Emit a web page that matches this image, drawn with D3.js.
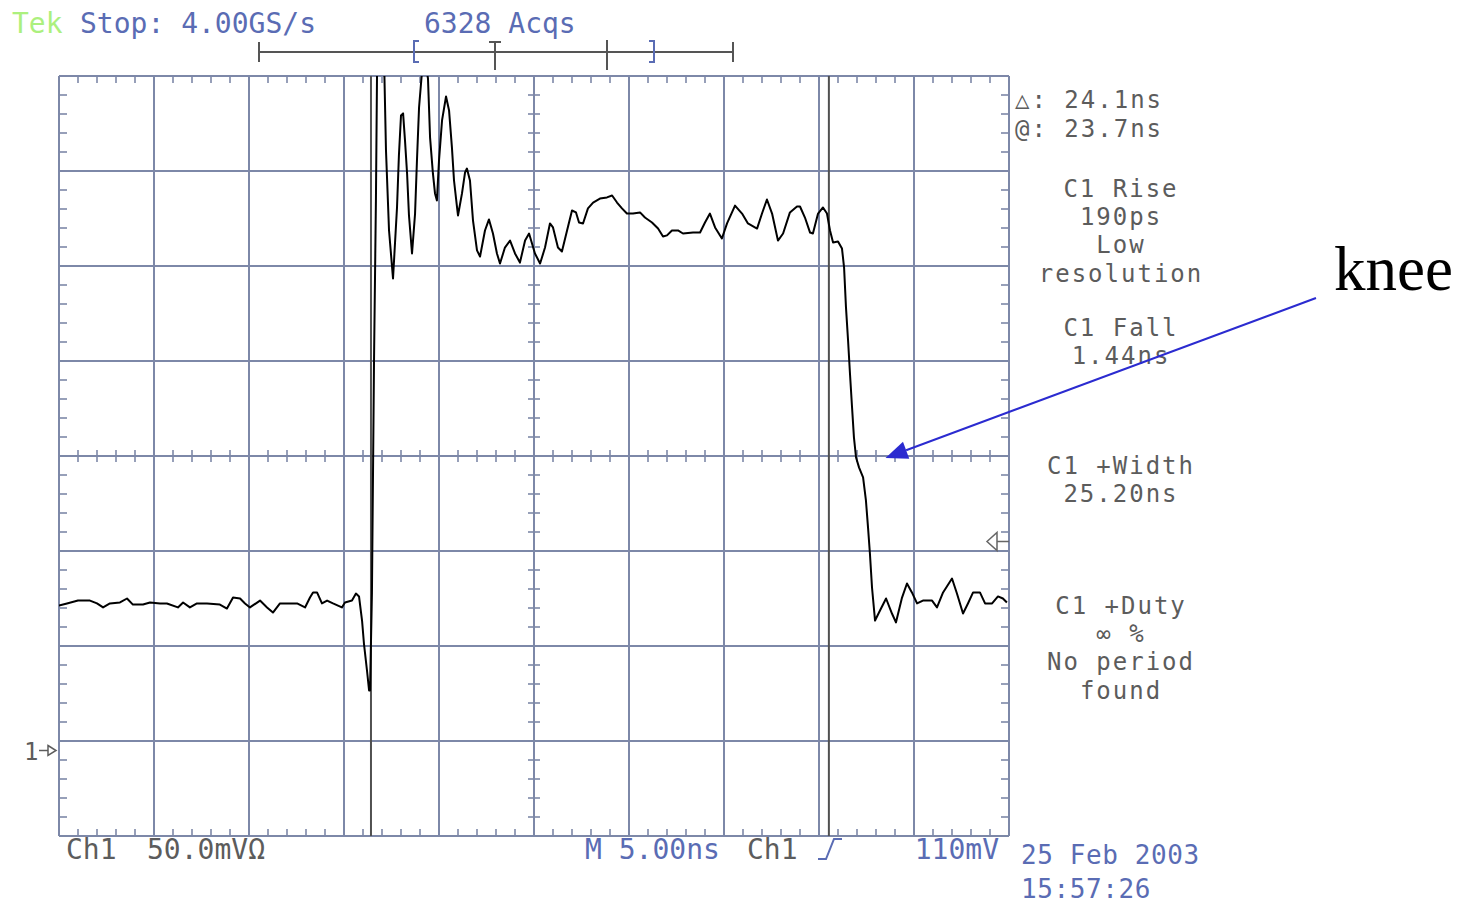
<!DOCTYPE html>
<html>
<head>
<meta charset="utf-8">
<script src="https://cdn.jsdelivr.net/npm/d3@7"></script>
<style>
  html, body { margin: 0; padding: 0; background: #fff; }
  svg { display: block; }
  .scope { font-family: "DejaVu Sans Mono", "Liberation Mono", monospace; font-size: 28px; }
  .readout { font-size: 24px; letter-spacing: 2px; }
</style>
</head>
<body>
<div id="chart"></div>
<script>
// Ch1 trace: time from left edge of screen (ns) and level above ground (mV)
const timeNs = [
  0.00, 0.42, 1.00, 1.63, 2.00, 2.32, 2.68, 3.21, 3.58, 3.89,
  4.42, 4.79, 5.32, 5.68, 6.26, 6.53, 6.89, 7.26, 7.79, 8.47,
  8.84, 9.16, 9.53, 9.79, 10.05, 10.58, 10.95, 11.26, 11.63, 12.16,
  12.53, 12.95, 13.21, 13.37, 13.58, 13.84, 14.11, 14.42, 14.89, 15.05,
  15.42, 15.63, 15.79, 15.95, 16.05, 16.21, 16.32, 16.37, 16.47, 16.58,
  16.68, 16.74, 16.89, 17.11, 17.21, 17.37, 17.58, 17.79, 17.89, 18.00,
  18.11, 18.21, 18.32, 18.42, 18.58, 18.74, 18.84, 18.95, 19.11, 19.26,
  19.42, 19.53, 19.68, 19.79, 19.89, 20.00, 20.16, 20.37, 20.53, 20.68,
  20.79, 20.95, 21.00, 21.21, 21.37, 21.47, 21.63, 21.79, 22.00, 22.16,
  22.42, 22.63, 22.84, 23.05, 23.21, 23.47, 23.74, 24.00, 24.26, 24.53,
  24.74, 25.05, 25.32, 25.58, 25.84, 26.00, 26.26, 26.47, 26.74, 27.00,
  27.21, 27.37, 27.58, 27.84, 28.11, 28.47, 28.84, 29.11, 29.37, 29.63,
  29.89, 30.21, 30.58, 30.84, 31.21, 31.53, 31.79, 32.00, 32.26, 32.58,
  32.84, 33.37, 33.74, 34.00, 34.26, 34.53, 34.89, 35.16, 35.58, 35.95,
  36.26, 36.74, 37.00, 37.26, 37.53, 37.84, 38.11, 38.47, 38.84, 39.00,
  39.26, 39.53, 39.68, 39.95, 40.21, 40.42, 40.58, 40.74, 41.00, 41.21,
  41.32, 41.42, 41.53, 41.63, 41.74, 41.84, 41.95, 42.11, 42.32, 42.47,
  42.58, 42.68, 42.79, 42.95, 43.21, 43.53, 43.84, 44.05, 44.37, 44.63,
  44.89, 45.16, 45.47, 45.95, 46.21, 46.53, 47.00, 47.26, 47.58, 47.84,
  48.11, 48.47, 48.74, 49.11, 49.42, 49.68, 49.89
];
const voltMv = [
  76.3, 77.4, 78.9, 78.9, 77.4, 75.3, 77.4, 77.9, 80.0, 76.8,
  76.8, 77.9, 77.4, 77.4, 75.3, 77.9, 75.3, 77.4, 77.4, 76.8,
  74.7, 80.5, 80.0, 77.4, 75.3, 78.9, 75.3, 72.6, 77.4, 77.4,
  77.4, 75.3, 80.5, 83.2, 83.2, 77.4, 78.9, 77.4, 75.3, 77.9,
  78.9, 82.6, 81.1, 68.4, 56.3, 42.1, 31.6, 31.6, 82.6, 205.3,
  289.5, 357.9, 373.7, 363.2, 315.8, 273.7, 248.4, 285.8, 313.2, 334.2,
  335.3, 321.1, 303.7, 281.6, 261.6, 282.6, 310.5, 338.4, 357.9, 363.2,
  353.7, 322.6, 303.7, 293.2, 289.5, 310.5, 331.6, 344.2, 336.8, 317.4,
  300.0, 285.8, 281.6, 293.2, 304.2, 306.3, 300.0, 278.9, 263.2, 260.0,
  273.7, 279.5, 272.1, 261.6, 256.3, 264.7, 268.4, 261.6, 256.8, 268.4,
  272.1, 261.6, 256.3, 264.7, 277.4, 275.3, 264.7, 262.6, 273.7, 284.2,
  283.2, 277.9, 277.4, 285.3, 288.4, 290.5, 291.1, 292.1, 288.4, 285.3,
  282.6, 282.6, 283.2, 280.5, 277.9, 274.7, 270.5, 271.1, 273.7, 273.7,
  272.1, 272.6, 272.6, 277.9, 282.6, 275.3, 269.5, 277.4, 286.8, 282.6,
  277.4, 274.7, 282.6, 290.0, 282.6, 268.4, 272.1, 283.2, 286.3, 286.3,
  280.5, 272.6, 272.1, 282.6, 285.8, 282.6, 273.7, 267.4, 267.9, 264.2,
  254.2, 233.2, 215.8, 198.4, 180.5, 164.7, 154.2, 148.9, 143.7, 131.6,
  117.4, 103.7, 85.8, 68.4, 73.7, 80.0, 72.1, 67.4, 80.5, 87.9,
  83.2, 77.4, 78.9, 78.9, 75.3, 83.2, 90.5, 82.6, 72.1, 77.4,
  83.2, 83.2, 77.4, 77.4, 81.1, 80.0, 77.9
];

// scope settings
const hDivs = 10, vDivs = 8;
const nsPerDiv = 5, mvPerDiv = 50;
const groundDivs = 0.9;        // ground marker above bottom edge
const triggerMv = 110;
const cursorNs = [16.42, 40.52];
const kneeNs = 43.5, kneeMv = 154;

// readouts
const headerLabels = ['Tek', 'Stop: 4.00GS/s', '6328 Acqs'];
const cursorReadout = ['\u25B3: 24.1ns', '@: 23.7ns'];
const measureBlocks = [
  ['C1 Rise', '190ps', 'Low', 'resolution'],
  ['C1 Fall', '1.44ns'],
  ['C1 +Width', '25.20ns'],
  ['C1 +Duty', '\u221E %', 'No period', 'found']
];
const footerLabels = ['Ch1', '50.0mV\u03A9', 'M 5.00ns', 'Ch1', '110mV'];
const dateLabels = ['25 Feb 2003', '15:57:26'];
const annotation = 'knee';

const W = 1469, H = 905;
const plot = { left: 59, top: 76, width: 950, height: 760 };
const right = plot.left + plot.width, bottom = plot.top + plot.height;

const gridColor = '#7d88a8';
const grayText = '#5c5c5c';
const blueText = '#5a6cb4';

const svg = d3.select('#chart').append('svg')
  .attr('width', W)
  .attr('height', H);

const x = d3.scaleLinear()
  .domain([0, hDivs * nsPerDiv])
  .range([plot.left, right]);

const y = d3.scaleLinear()
  .domain([-groundDivs * mvPerDiv, (vDivs - groundDivs) * mvPerDiv])
  .range([bottom, plot.top]);

// graticule
const grid = svg.append('g')
  .attr('stroke', gridColor)
  .attr('stroke-width', 2)
  .attr('fill', 'none');

grid.selectAll('line.vmaj')
  .data(d3.range(0, hDivs + 1).map(i => i * nsPerDiv))
  .join('line')
  .attr('x1', d => x(d)).attr('x2', d => x(d))
  .attr('y1', plot.top).attr('y2', bottom);

const yMajors = d3.range(0, vDivs + 1).map(i => y.domain()[0] + i * mvPerDiv);
grid.selectAll('line.hmaj')
  .data(yMajors)
  .join('line')
  .attr('x1', plot.left).attr('x2', right)
  .attr('y1', d => y(d)).attr('y2', d => y(d));

const xMinor = d3.range(0, hDivs * nsPerDiv + 0.01, nsPerDiv / 5);
const yMinor = d3.range(0, vDivs * 5 + 1).map(i => y.domain()[0] + i * mvPerDiv / 5);
const yMid = y(y.domain()[0] + vDivs / 2 * mvPerDiv);
const xMid = x(hDivs / 2 * nsPerDiv);

const ticks = svg.append('g')
  .attr('stroke', gridColor)
  .attr('stroke-width', 1.6);

[[plot.top, plot.top + 7], [bottom - 7, bottom], [yMid - 6, yMid + 6]].forEach(([a, b]) => {
  ticks.append('g').selectAll('line')
    .data(xMinor)
    .join('line')
    .attr('x1', d => x(d)).attr('x2', d => x(d))
    .attr('y1', a).attr('y2', b);
});
[[plot.left, plot.left + 8], [right - 8, right], [xMid - 6, xMid + 6]].forEach(([a, b]) => {
  ticks.append('g').selectAll('line')
    .data(yMinor)
    .join('line')
    .attr('y1', d => y(d)).attr('y2', d => y(d))
    .attr('x1', a).attr('x2', b);
});

// cursors
svg.append('g').selectAll('line')
  .data(cursorNs)
  .join('line')
  .attr('x1', d => x(d)).attr('x2', d => x(d))
  .attr('y1', plot.top).attr('y2', bottom)
  .attr('stroke', '#505050')
  .attr('stroke-width', 2);

// trace
svg.append('clipPath').attr('id', 'clip')
  .append('rect')
  .attr('x', plot.left).attr('y', plot.top)
  .attr('width', plot.width).attr('height', plot.height);

const points = timeNs.map((t, i) => [t, voltMv[i]]);
const line = d3.line()
  .x(d => x(d[0]))
  .y(d => y(d[1]));

svg.append('path')
  .datum(points)
  .attr('clip-path', 'url(#clip)')
  .attr('d', line)
  .attr('fill', 'none')
  .attr('stroke', '#000')
  .attr('stroke-width', 2)
  .attr('stroke-linejoin', 'round');

// trigger level marker (right edge)
const ty = y(triggerMv);
svg.append('path')
  .attr('d', `M${right - 22},${ty} L${right - 12},${ty - 9} L${right - 12},${ty + 9} Z M${right - 12},${ty} H${right}`)
  .attr('fill', '#fff')
  .attr('stroke', '#666')
  .attr('stroke-width', 1.5);

// ground marker (left edge)
const gy = y(0);
const gnd = svg.append('g').attr('stroke', grayText).attr('stroke-width', 1.5).attr('fill', 'none');
gnd.append('path').attr('d', `M${plot.left - 20},${gy} H${plot.left - 11}`);
gnd.append('path').attr('d', `M${plot.left - 11},${gy - 5} L${plot.left - 3},${gy} L${plot.left - 11},${gy + 5} Z`);
svg.append('text')
  .attr('class', 'scope')
  .attr('x', 24).attr('y', gy + 9)
  .attr('fill', grayText)
  .style('font-size', '24px')
  .text('1');

// header
const header = svg.append('g').attr('class', 'scope');
header.append('text').attr('x', 12).attr('y', 33).attr('fill', '#acf07e').text(headerLabels[0]);
header.append('text').attr('x', 80).attr('y', 33).attr('fill', blueText).text(headerLabels[1]);
header.append('text').attr('x', 424).attr('y', 33).attr('fill', blueText).text(headerLabels[2]);

// record bar
const barY = 52;
const bar = svg.append('g').attr('stroke', '#555').attr('stroke-width', 2).attr('fill', 'none');
bar.append('path').attr('d', `M259,${barY} H733 M259,${barY - 10} V${barY + 10} M733,${barY - 10} V${barY + 10}`);
bar.append('path').attr('d', `M607,${barY - 12} V${barY + 18}`);
bar.append('path').attr('d', `M489,${barY - 10} H501 M495,${barY - 10} V${barY + 18}`);
svg.append('path')
  .attr('d', `M419,${barY - 11} H414 V${barY + 10} H419 M649,${barY - 11} H654 V${barY + 10} H649`)
  .attr('fill', 'none')
  .attr('stroke', blueText)
  .attr('stroke-width', 2);

// right readouts
const side = svg.append('g').attr('class', 'scope readout').attr('fill', grayText);
cursorReadout.forEach((s, i) => {
  side.append('text').attr('x', 1015).attr('y', 108 + i * 29).text(s);
});
const blockTops = [196.5, 335.5, 473.5, 613.5];
measureBlocks.forEach((lines, b) => {
  lines.forEach((s, i) => {
    side.append('text')
      .attr('x', 1121).attr('y', blockTops[b] + i * 28.4)
      .attr('text-anchor', 'middle')
      .text(s);
  });
});

// footer
const foot = svg.append('g').attr('class', 'scope');
foot.append('text').attr('x', 66).attr('y', 859).attr('fill', grayText).text(footerLabels[0]);
foot.append('text').attr('x', 147).attr('y', 859).attr('fill', grayText).text(footerLabels[1]);
foot.append('text').attr('x', 585).attr('y', 859).attr('fill', blueText).text(footerLabels[2]);
foot.append('text').attr('x', 747).attr('y', 859).attr('fill', grayText).text(footerLabels[3]);
foot.append('text').attr('x', 999).attr('y', 859).attr('text-anchor', 'end').attr('fill', blueText).text(footerLabels[4]);
svg.append('path')
  .attr('d', 'M818,859 H826 L834,839 H842')
  .attr('fill', 'none')
  .attr('stroke', blueText)
  .attr('stroke-width', 2);
dateLabels.forEach((s, i) => {
  foot.append('text')
    .attr('x', 1021).attr('y', 864 + i * 34)
    .attr('fill', blueText)
    .style('font-size', '26px')
    .style('letter-spacing', '0.6px')
    .text(s);
});

// knee annotation
const tipX = x(kneeNs), tipY = y(kneeMv);
const tailX = 1316, tailY = 298;
const ang = Math.atan2(tailY - tipY, tailX - tipX);
const headLen = 22, headHalf = 9;
const bx = tipX + headLen * Math.cos(ang), by = tipY + headLen * Math.sin(ang);
svg.append('line')
  .attr('x1', tailX).attr('y1', tailY)
  .attr('x2', bx).attr('y2', by)
  .attr('stroke', '#2b2bd0')
  .attr('stroke-width', 2);
svg.append('path')
  .attr('d', `M${tipX},${tipY} L${bx - headHalf * Math.sin(ang)},${by + headHalf * Math.cos(ang)} L${bx + headHalf * Math.sin(ang)},${by - headHalf * Math.cos(ang)} Z`)
  .attr('fill', '#2b2bd0');
svg.append('text')
  .attr('x', 1334).attr('y', 290)
  .attr('font-family', '"Liberation Serif", "Times New Roman", serif')
  .attr('font-size', 63)
  .attr('fill', '#000')
  .text(annotation);
</script>
</body>
</html>
